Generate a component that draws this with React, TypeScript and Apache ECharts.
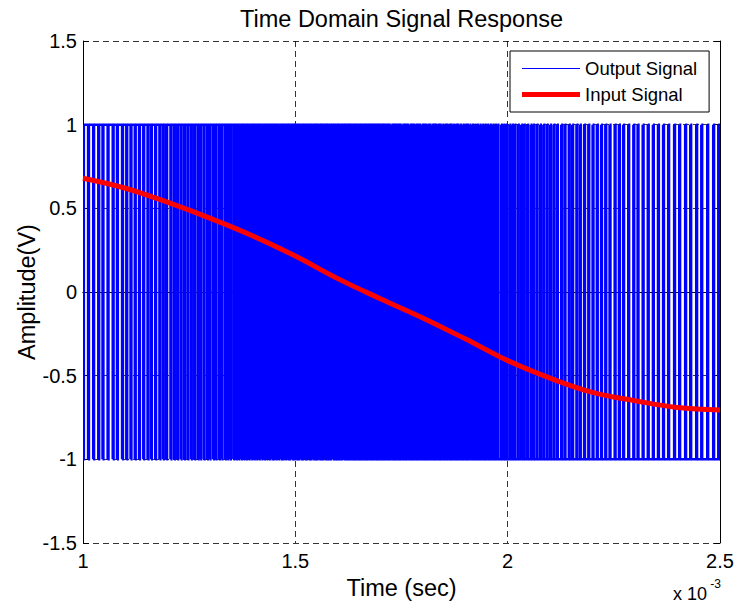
import React, { useEffect, useRef } from "react";
import * as echarts from "echarts";

// ---- data ----
// Input signal: time in ms (axis shows x 10^-3 s) and amplitude in V
const inputTime = [1.0, 1.1, 1.2, 1.3, 1.4, 1.5, 1.6, 1.7, 1.8, 1.9, 2.0, 2.1, 2.2, 2.3, 2.4, 2.5];
const inputSignal = [0.68, 0.62, 0.535, 0.44, 0.335, 0.215, 0.08, -0.04, -0.155, -0.28, -0.41, -0.515, -0.6, -0.65, -0.69, -0.705];
// Output signal: 1-bit (±1 V) quantised version of the input, one sample every 2 microseconds
const outputLevels = [-1, 1];
const outputSamplePeriod = 0.002; // ms
const xTicks = [1, 1.5, 2, 2.5];
const yTicks = [-1.5, -1, -0.5, 0, 0.5, 1, 1.5];

const FONT = "'Liberation Sans', Arial, Helvetica, sans-serif";
const BLUE = "#0000ff";
const RED = "#ff0000";

function inputAt(t: number): number {
  for (let i = 0; i < inputTime.length - 1; i++) {
    if (t <= inputTime[i + 1]) {
      const f = (t - inputTime[i]) / (inputTime[i + 1] - inputTime[i]);
      return inputSignal[i] + f * (inputSignal[i + 1] - inputSignal[i]);
    }
  }
  return inputSignal[inputSignal.length - 1];
}

// first-order 1-bit quantiser of the input samples (the output signal shown),
// returned as constant-level runs: [start, end, level, nextLevel]
function buildOutputRuns(): number[][] {
  const t0 = inputTime[0];
  const t1 = inputTime[inputTime.length - 1];
  const n = Math.round((t1 - t0) / outputSamplePeriod);
  const levels: number[] = [];
  let acc = 0;
  let y = outputLevels[1];
  for (let i = 0; i < n; i++) {
    const t = t0 + i * outputSamplePeriod;
    acc += inputAt(t) - y;
    y = acc >= 0 ? outputLevels[1] : outputLevels[0];
    levels.push(y);
  }
  const runs: number[][] = [];
  let start = 0;
  for (let i = 1; i <= n; i++) {
    if (i === n || levels[i] !== levels[start]) {
      runs.push([
        t0 + start * outputSamplePeriod,
        t0 + i * outputSamplePeriod,
        levels[start],
        i === n ? levels[start] : levels[i],
      ]);
      start = i;
    }
  }
  return runs;
}

export default function App() {
  const ref = useRef<HTMLDivElement>(null);
  useEffect(() => {
    if (!ref.current) return;
    const chart = echarts.init(ref.current, null, { renderer: "svg" });
    const outputRuns = buildOutputRuns();
    const inputData = inputTime.map((t, i) => [t, inputSignal[i]]);
    const gridLine = { show: true, lineStyle: { color: "#000", width: 0.8, type: [6, 4] as any } };
    const axisLine = { show: true, lineStyle: { color: "#000", width: 1 } };
    const tick = { show: true, inside: true, length: 6, lineStyle: { color: "#000" } };
    chart.setOption({
      animation: false,
      backgroundColor: "#fff",
      textStyle: { fontFamily: FONT },
      title: {
        text: "Time Domain Signal Response",
        left: 235,
        top: 2,
        textStyle: { fontFamily: FONT, fontSize: 23.5, fontWeight: "normal", color: "#000" },
      },
      grid: { left: 83, right: 17, top: 41, bottom: 64, containLabel: false },
      legend: {
        orient: "vertical",
        left: 510,
        top: 51,
        padding: [8, 12, 8, 12],
        itemGap: 7,
        itemWidth: 58,
        itemHeight: 14,
        itemTextGap: 8,
        backgroundColor: "#fff",
        borderColor: "#000",
        borderWidth: 1,
        borderRadius: 0,
        symbolKeepAspect: true,
        textStyle: { fontFamily: FONT, fontSize: 18.5, color: "#000" },
        data: [
          { name: "Output Signal", icon: "path://M0,0h58v1h-58z", itemStyle: { color: BLUE } },
          { name: "Input Signal", icon: "path://M0,0h58v5h-58z", itemStyle: { color: RED } },
        ],
      },
      xAxis: [
        {
          type: "value",
          min: xTicks[0],
          max: xTicks[xTicks.length - 1],
          interval: 0.5,
          name: "Time (sec)",
          nameLocation: "middle",
          nameGap: 33,
          nameMoveOverlap: false,
          nameTextStyle: { fontFamily: FONT, fontSize: 23.5, color: "#000" },
          axisLine,
          axisTick: tick,
          axisLabel: { color: "#000", fontSize: 20, fontFamily: FONT, margin: 8 },
          splitLine: gridLine,
        },
        {
          type: "value",
          position: "top",
          min: xTicks[0],
          max: xTicks[xTicks.length - 1],
          interval: 0.5,
          axisLine,
          axisTick: tick,
          axisLabel: { show: false },
          splitLine: { show: false },
        },
      ],
      yAxis: [
        {
          type: "value",
          min: yTicks[0],
          max: yTicks[yTicks.length - 1],
          interval: 0.5,
          name: "Amplitude(V)",
          nameLocation: "middle",
          nameGap: 44,
          nameMoveOverlap: false,
          nameTextStyle: { fontFamily: FONT, fontSize: 23.5, color: "#000" },
          axisLine,
          axisTick: tick,
          axisLabel: { color: "#000", fontSize: 20, fontFamily: FONT, margin: 6 },
          splitLine: gridLine,
        },
        {
          type: "value",
          position: "right",
          min: yTicks[0],
          max: yTicks[yTicks.length - 1],
          interval: 0.5,
          axisLine,
          axisTick: tick,
          axisLabel: { show: false },
          splitLine: { show: false },
        },
      ],
      graphic: [
        {
          type: "text",
          right: 30,
          top: 585,
          style: { text: "x 10", font: `18px ${FONT}`, fill: "#000" },
        },
        {
          type: "text",
          right: 16,
          top: 578,
          style: { text: "-3", font: `12px ${FONT}`, fill: "#000" },
        },
      ],
      series: [
        {
          name: "Output Signal",
          type: "custom",
          data: outputRuns,
          encode: { x: [0, 1], y: 2 },
          clip: true,
          silent: true,
          itemStyle: { color: BLUE },
          z: 2,
          renderItem: (params: any, api: any) => {
            const s = api.value(0);
            const e = api.value(1);
            const lv = api.value(2);
            const nx = api.value(3);
            const pts = [api.coord([s, lv]), api.coord([e, lv])];
            if (nx !== lv) pts.push(api.coord([e, nx]));
            return {
              type: "polyline",
              shape: { points: pts },
              style: { stroke: BLUE, lineWidth: 2.5, fill: null },
              silent: true,
            };
          },
        },
        {
          name: "Input Signal",
          type: "line",
          smooth: 0.4,
          data: inputData,
          showSymbol: false,
          symbol: "none",
          lineStyle: { color: RED, width: 5 },
          itemStyle: { color: RED },
          emphasis: { disabled: true },
          silent: true,
          z: 3,
        },
      ],
    });
    return () => chart.dispose();
  }, []);
  return (
    <div
      ref={ref}
      style={{ position: "fixed", left: 0, top: 0, width: 737, height: 607, background: "#fff" }}
    />
  );
}
